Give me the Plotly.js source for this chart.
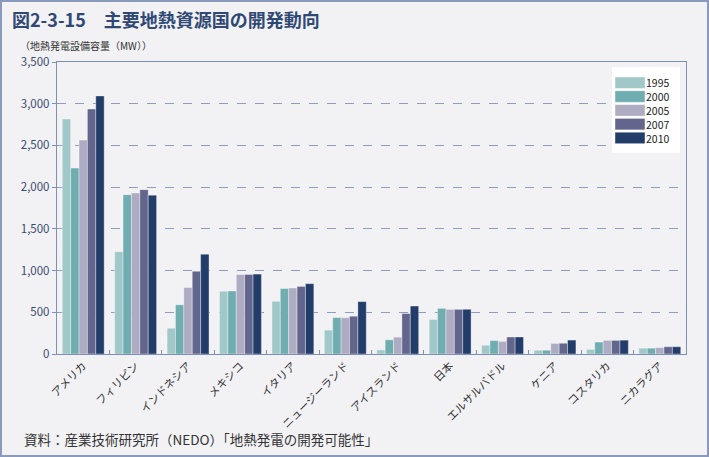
<!DOCTYPE html>
<html><head><meta charset="utf-8">
<script src="https://cdn.plot.ly/plotly-3.0.1.min.js"></script>
<style>
html,body{margin:0;padding:0;background:#f2f2f5;}
#wrap{position:relative;width:709px;height:457px;}
#chart{position:absolute;left:0;top:0;width:709px;height:457px;}
#frame{position:absolute;left:0;top:0;width:709px;height:457px;box-sizing:border-box;border:2px solid #8a9abd;pointer-events:none;}
</style></head>
<body><div id="wrap"><div id="chart"></div><div id="frame"></div></div>
<script>
const countries = ["アメリカ","フィリピン","インドネシア","メキシコ","イタリア","ニュージーランド","アイスランド","日本","エルサルバドル","ケニア","コスタリカ","ニカラグア"];
const years = ["1995","2000","2005","2007","2010"];
const v1995 = [2817,1227,309,753,632,286,50,414,105,45,55,70];
const v2000 = [2228,1909,590,755,785,437,170,547,161,45,143,70];
const v2005 = [2564,1931,797,953,791,435,202,535,151,127,163,77];
const v2007 = [2937,1970,992,953,810,453,485,535,204,129,163,87];
const v2010 = [3093,1904,1197,958,843,628,575,536,204,167,166,87];
const colors = ["#a1c8c8","#6fadb0","#aeacc2","#63668c","#233d6a"];
const series = [v1995,v2000,v2005,v2007,v2010];
const font = "Noto Sans CJK JP, Noto Sans, sans-serif";
const traces = series.map((vals,i)=>({
  type:"bar", name:years[i], x:countries, y:vals,
  marker:{color:colors[i], line:{color:"rgba(255,255,255,0.6)", width:0.6}}
}));
// custom legend (pixel geometry converted to paper coords)
const L = 57, W = 629, B = 354, H = 292;
const px = x => (x - L) / W, py = y => (B - y) / H;
const shapes = [{type:"rect", xref:"paper", yref:"paper", x0:px(612), x1:px(680), y0:py(153), y1:py(67),
  fillcolor:"#ffffff", line:{width:0}, layer:"above"}];
const legAnn = [];
years.forEach((yr,i)=>{
  const top = 77 + i*13.8;
  shapes.push({type:"rect", xref:"paper", yref:"paper", x0:px(615), x1:px(645), y0:py(top+11.5), y1:py(top),
    fillcolor:colors[i], line:{color:"rgba(255,255,255,0.7)", width:0.6}, layer:"above"});
  legAnn.push({text:yr, xref:"paper", yref:"paper", x:px(644.5), y:py(top+6), xanchor:"left", yanchor:"middle",
    showarrow:false, borderpad:0, font:{size:10.5, color:"#222222", family:font}});
});
const layout = {
  width:709, height:457,
  paper_bgcolor:"#f2f2f5", plot_bgcolor:"#f2f2f5",
  margin:{l:57, r:23, t:62, b:103},
  font:{family:font, color:"#3a4a70"},
  barmode:"group", bargap:0.2, bargroupgap:0,
  showlegend:false,
  title:{text:"<b>図2-3-15　主要地熱資源国の開発動向</b>", xref:"container", yref:"container",
    x:12/709, y:1-21/457, xanchor:"left", yanchor:"middle",
    font:{size:18, color:"#2f4874", family:font}},
  xaxis:{type:"category", tickangle:-45, tickfont:{size:11, color:"#333333"},
    showline:true, linecolor:"#7e8fb4", linewidth:1.2, mirror:true,
    ticks:"inside", tickson:"boundaries", ticklen:4, tickcolor:"#7e8fb4",
    showgrid:false},
  yaxis:{range:[0,3500], dtick:500, tickformat:",d", tickfont:{size:11.5, color:"#3a4a70"},
    showline:true, linecolor:"#7e8fb4", linewidth:1.2, mirror:true,
    ticks:"outside", ticklen:4, tickcolor:"#7e8fb4",
    showgrid:true, gridcolor:"#8e9dbc", griddash:"dash", gridwidth:1, zeroline:false},
  shapes: shapes,
  annotations:[
    {text:"（地熱発電設備容量（MW））", xref:"paper", yref:"paper", x:px(18), y:py(45),
     xanchor:"left", yanchor:"middle", showarrow:false, font:{size:10, color:"#333333", family:font}},
    {text:"資料：産業技術研究所（NEDO）「地熱発電の開発可能性」", xref:"paper", yref:"paper", x:px(22), y:py(439),
     xanchor:"left", yanchor:"middle", showarrow:false, font:{size:13.5, color:"#333333", family:font}}
  ].concat(legAnn)
};
Plotly.newPlot("chart", traces, layout, {displayModeBar:false, staticPlot:true});
</script></body></html>
